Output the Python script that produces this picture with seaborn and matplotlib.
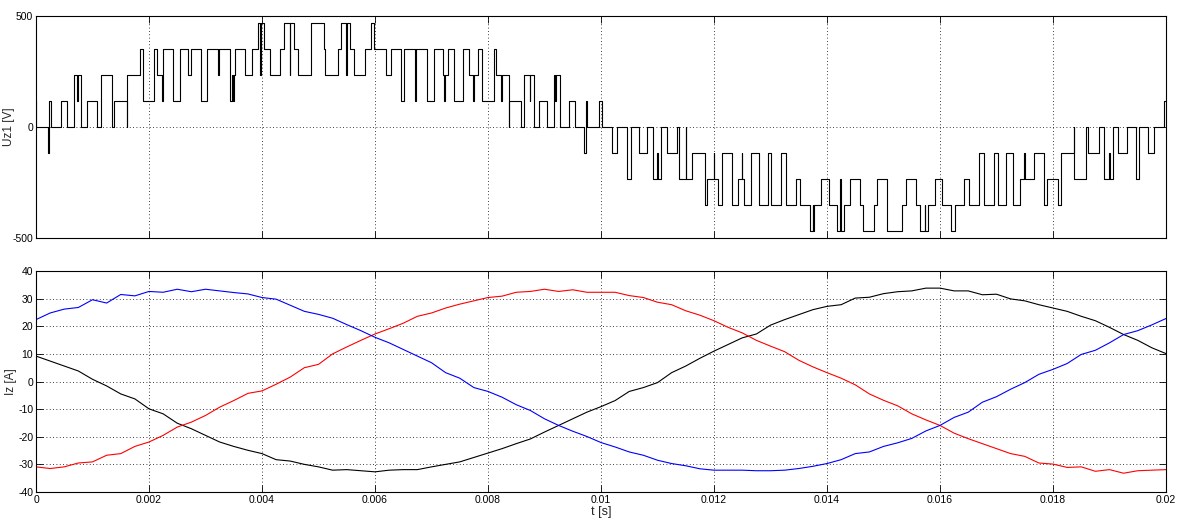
import numpy as np
import pandas as pd
import matplotlib
matplotlib.use("Agg")
import matplotlib.pyplot as plt
import seaborn as sns

# --- voltage Uz1: switching instants (microseconds) and level index after each switch
sw_us = [0, 7, 207, 236, 260, 438, 544, 673, 726, 739, 797, 909, 1075, 1146, 1341, 1382,
         1607, 1617, 1842, 1890, 2090, 2138, 2237, 2245, 2422, 2551, 2698, 2746, 2928, 3035,
         3229, 3247, 3437, 3463, 3481, 3508, 3525, 3702, 3821, 3938, 3968, 3977, 4027, 4145,
         4310, 4393, 4487, 4494, 4558, 4629, 4866, 5090, 5120, 5338, 5398, 5492, 5504, 5563,
         5633, 5828, 5929, 5988, 6200, 6284, 6461, 6507, 6714, 6732, 6921, 7038, 7205, 7228,
         7240, 7286, 7405, 7559, 7658, 7736, 7747, 7818, 7888, 8101, 8149, 8232, 8243, 8367,
         8374, 8586, 8633, 8739, 8746, 8810, 8898, 9047, 9164, 9189, 9212, 9270, 9430, 9531,
         9695, 9726, 9756, 9961, 10021, 10199, 10275, 10452, 10523, 10670, 10806, 10925, 10996,
         11006, 11067, 11160, 11338, 11385, 11497, 11506, 11616, 11834, 11881, 11998, 12007,
         12069, 12147, 12324, 12424, 12494, 12503, 12530, 12661, 12796, 12955, 13015, 13192,
         13269, 13446, 13522, 13699, 13747, 13759, 13770, 13901, 14036, 14172, 14230, 14243,
         14301, 14408, 14585, 14645, 14833, 14893, 15070, 15336, 15394, 15571, 15648, 15731,
         15743, 15779, 15908, 16027, 16192, 16262, 16427, 16516, 16693, 16781, 16959, 17019,
         17166, 17285, 17419, 17490, 17502, 17657, 17834, 17892, 18082, 18140, 18365, 18376,
         18583, 18624, 18819, 18897, 18990, 19003, 19056, 19155, 19309, 19469, 19527, 19687,
         19782, 19960, 20000]
sw_level = [1, 0, -1, 1, 0, 1, 0, 2, 1, 2, 0, 1, 0, 2, 0, 1,
            0, 2, 3, 1, 3, 2, 1, 3, 1, 3, 2, 3, 1, 3,
            2, 3, 1, 2, 1, 2, 3, 2, 3, 4, 2, 4, 3, 2,
            3, 4, 2, 4, 3, 2, 4, 3, 2, 3, 4, 2, 4, 3,
            2, 3, 4, 3, 2, 3, 1, 3, 1, 3, 1, 3, 2, 1,
            2, 3, 1, 3, 2, 1, 2, 3, 1, 3, 2, 1, 2, 0,
            1, 0, 2, 1, 2, 0, 1, 0, 2, 1, 2, 0, 1, 0,
            -1, 1, 0, 1, 0, -1, 0, -2, 0, -1, 0, -2, -1,
            -2, 0, -1, 0, -2, 0, -2, -1, -3, -2, -1, -2,
            -3, -1, -3, -2, -1, -2, -3, -1, -3, -1, -3, -1,
            -3, -2, -3, -4, -3, -4, -3, -2, -3, -4, -2, -4,
            -3, -2, -3, -4, -3, -2, -4, -3, -2, -3, -4, -3,
            -4, -3, -2, -3, -4, -3, -2, -3, -1, -3, -1, -3,
            -1, -3, -2, -1, -2, -1, -3, -2, -3, -1, 0, -2,
            0, -1, 0, -2, -1, -2, 0, -1, 0, -2, 0, -1,
            0, 1, 1]
u_step = 116.7  # V per level

# --- currents Iz, read every 0.25 ms
t_i = np.arange(81) * 0.00025
i_blue = [22.4, 24.8, 26.2, 26.8, 29.6, 28.4, 31.5, 31.0, 32.6, 32.3,
          33.4, 32.5, 33.4, 32.8, 32.2, 31.7, 30.4, 29.8, 27.6, 25.4,
          24.3, 22.9, 20.6, 18.4, 16.0, 14.0, 11.6, 9.2, 6.8, 3.2,
          1.2, -2.2, -3.6, -5.7, -8.4, -10.5, -13.5, -15.9, -18.0, -19.9,
          -22.1, -23.7, -25.5, -26.7, -28.5, -29.7, -30.5, -31.6, -32.1, -32.1,
          -32.1, -32.3, -32.3, -32.1, -31.5, -30.7, -29.7, -28.3, -26.1, -25.5,
          -23.5, -22.2, -20.6, -17.9, -15.9, -13.0, -11.1, -7.5, -5.5, -2.8,
          -0.4, 2.6, 4.4, 6.5, 9.8, 11.3, 14.0, 17.0, 18.4, 20.5, 22.8]
i_black = [9.2, 7.4, 5.6, 3.8, 0.8, -1.6, -4.5, -6.3, -9.9, -11.7,
           -15.1, -17.1, -19.5, -21.9, -23.5, -24.9, -26.1, -28.3, -28.8, -30.0,
           -30.9, -32.1, -31.9, -32.3, -32.7, -32.1, -31.9, -31.9, -30.9, -30.0,
           -29.1, -27.5, -25.9, -24.3, -22.5, -20.8, -18.3, -15.9, -13.5, -11.1,
           -9.1, -6.9, -3.6, -2.2, -0.4, 3.2, 5.6, 8.4, 11.0, 13.4,
           15.8, 17.2, 20.4, 22.4, 24.2, 26.0, 27.2, 27.8, 30.2, 30.5,
           31.8, 32.5, 32.8, 33.8, 33.8, 32.8, 32.8, 31.4, 31.6, 29.9,
           29.2, 27.8, 26.6, 25.4, 23.6, 22.0, 19.6, 17.0, 14.9, 12.2, 10.1]
i_red = [-30.9, -31.5, -30.9, -29.5, -29.1, -26.7, -26.1, -23.5, -21.9, -19.5,
         -16.5, -14.7, -12.3, -9.3, -6.9, -4.3, -3.4, -1.0, 1.6, 5.0,
         6.2, 10.0, 12.5, 14.9, 17.2, 19.1, 21.1, 23.6, 24.8, 26.6,
         28.0, 29.2, 30.4, 30.9, 32.3, 32.6, 33.4, 32.6, 33.2, 32.3,
         32.3, 32.3, 31.1, 30.4, 28.7, 27.8, 25.6, 24.0, 22.0, 19.6,
         17.6, 14.9, 12.8, 10.8, 7.7, 5.3, 3.2, 1.2, -1.2, -4.5,
         -6.8, -8.8, -11.7, -13.9, -15.9, -18.7, -20.7, -22.5, -24.3, -26.1,
         -27.1, -29.5, -29.9, -31.1, -30.9, -32.5, -31.9, -33.2, -32.3, -32.1, -31.9]

xtick_labels = ["0", "0.002", "0.004", "0.006", "0.008", "0.01", "0.012",
                "0.014", "0.016", "0.018", "0.02"]

sns.set_theme(style="ticks")
plt.rcParams['font.family'] = ['Liberation Sans Narrow', 'Liberation Sans', 'DejaVu Sans']
plt.rcParams['xtick.direction'] = 'in'
plt.rcParams['ytick.direction'] = 'in'
plt.rcParams['axes.unicode_minus'] = False

fig = plt.figure(figsize=(11.85, 5.29), dpi=100)
ax1 = fig.add_axes([36 / 1185, 1 - 238 / 529, 1130 / 1185, 222 / 529])
ax2 = fig.add_axes([36 / 1185, 1 - 492 / 529, 1130 / 1185, 221 / 529])

volt = pd.DataFrame({"t": np.array(sw_us) * 1e-6, "u": np.array(sw_level) * u_step})
sns.lineplot(data=volt, x="t", y="u", ax=ax1, color="black", lw=0.8,
             drawstyle="steps-post", estimator=None, sort=False)

cur = pd.DataFrame({"t": t_i, "blue": i_blue, "black": i_black, "red": i_red})
for col in ["black", "red", "blue"]:
    sns.lineplot(data=cur, x="t", y=col, ax=ax2, color=col, lw=0.8, estimator=None)

for ax in (ax1, ax2):
    ax.set_xlim(0, 0.02)
    ax.set_xticks(np.arange(0, 0.0201, 0.002))
    ax.grid(True, color="black", linestyle=(0, (1, 3)), lw=0.6)
    ax.tick_params(which="both", top=True, right=True, length=5, width=0.6,
                   labelsize=7.5, pad=2, colors="black")
    for s in ax.spines.values():
        s.set_linewidth(0.8)
        s.set_color("black")

lab_font = ['Liberation Sans', 'DejaVu Sans']

ax1.set_ylim(-500, 500)
ax1.set_yticks([-500, 0, 500])
ax1.set_xticklabels([])
ax1.set_xlabel("")
ax1.set_ylabel("Uz1 [V]", fontsize=8.5, family=lab_font)
ax1.yaxis.set_label_coords(-0.0186, 0.5)

ax2.set_ylim(-40, 40)
ax2.set_yticks(np.arange(-40, 41, 10))
ax2.set_xticklabels(xtick_labels)
ax2.set_xlabel("t [s]", fontsize=9, labelpad=1, family=lab_font)
ax2.set_ylabel("Iz [A]", fontsize=8.5, family=lab_font)
ax2.yaxis.set_label_coords(-0.0168, 0.5)

fig.savefig("out.png", dpi=100)
